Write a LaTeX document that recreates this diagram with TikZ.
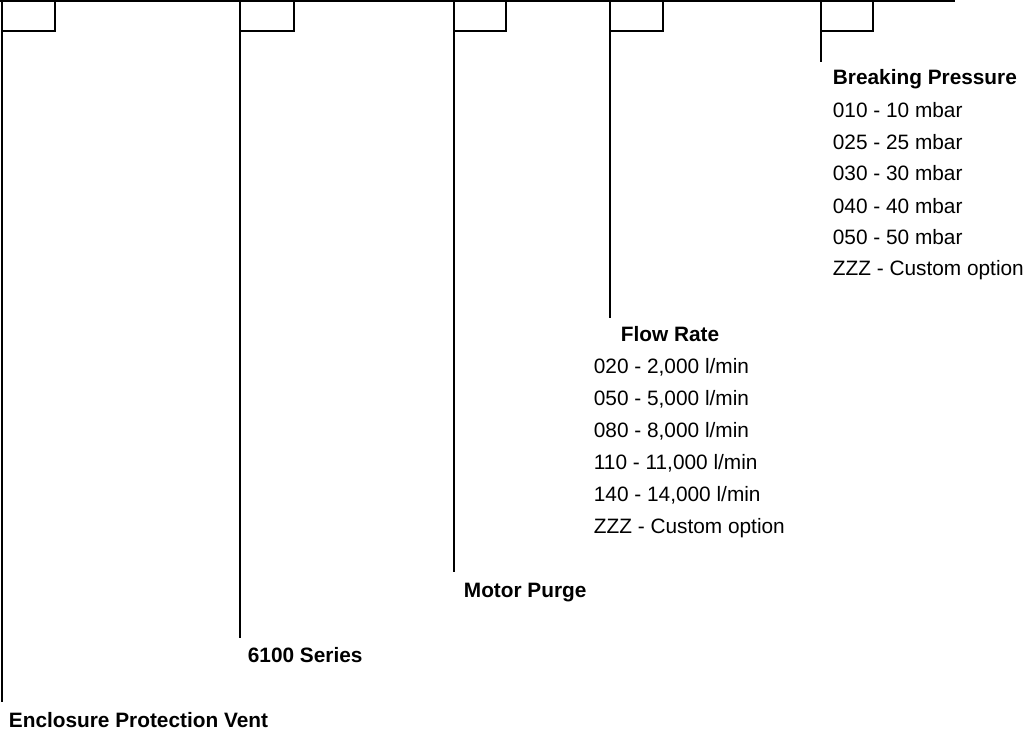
\documentclass[tikz,border=0pt]{standalone}
\usepackage{fontspec}
\setmainfont{Liberation Sans}
\begin{document}
\begin{tikzpicture}[x=1bp,y=-1bp,line width=1.8bp,
  lbl/.style={anchor=base west,inner sep=0pt,font=\fontsize{20.9}{24}\selectfont},
  head/.style={lbl,font=\fontsize{20.9}{24}\selectfont\bfseries}]
\useasboundingbox (0,0) rectangle (1028,731);
% top line
\coordinate (tl) at (0,1);
\coordinate (tr) at (955,1);
\draw (tl) -- (tr);
% boxes and drop lines
\foreach \xa/\xb/\yend/\n in {2/55/702/a,240/294/638/b,454/506/572/c,610/663/318/d,821/873/62/e}{
  \coordinate (\n top) at (\xa,1);
  \coordinate (\n end) at (\xa,\yend);
  \draw (\n top) -- (\n end);
  \draw (\xb,1) -- (\xb,31) -- (\xa,31);
}
% Breaking pressure
\node[head] (bp) at (832,85) {Breaking Pressure};
\node[lbl] (bp1) at (832,118) {010 - 10 mbar};
\node[lbl] (bp2) at (832,150) {025 - 25 mbar};
\node[lbl] (bp3) at (832,181) {030 - 30 mbar};
\node[lbl] (bp4) at (832,213) {040 - 40 mbar};
\node[lbl] (bp5) at (832,244) {050 - 50 mbar};
\node[lbl] (bp6) at (832,275) {ZZZ - Custom option};
% Flow rate
\node[head] (fr) at (620,341) {Flow Rate};
\node[lbl] (fr1) at (593,373) {020 - 2,000 l/min};
\node[lbl] (fr2) at (593,405) {050 - 5,000 l/min};
\node[lbl] (fr3) at (593,437) {080 - 8,000 l/min};
\node[lbl] (fr4) at (593,469) {110 - 11,000 l/min};
\node[lbl] (fr5) at (593,501) {140 - 14,000 l/min};
\node[lbl] (fr6) at (593,533) {ZZZ - Custom option};
% others
\node[head] (mp) at (463,597) {Motor Purge};
\node[head] (ser) at (247,662) {6100 Series};
\node[head] (epv) at (8,727) {Enclosure Protection Vent};
\end{tikzpicture}
\end{document}
